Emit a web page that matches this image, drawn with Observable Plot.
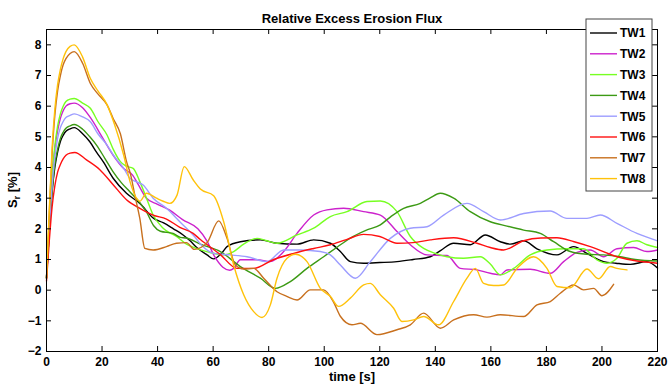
<!DOCTYPE html>
<html><head><meta charset="utf-8">
<script src="https://cdn.jsdelivr.net/npm/d3@7"></script>
<script src="https://cdn.jsdelivr.net/npm/@observablehq/plot@0.6"></script>
<style>body{margin:0;background:#fff;} svg{display:block;}</style>
</head><body><div id="chart"></div>
<script>
const titleText = "Relative Excess Erosion Flux";
const xLabelText = "time [s]";
const names = ["TW1","TW2","TW3","TW4","TW5","TW6","TW7","TW8"];
const colors = ["#000000","#cc22cc","#77ff22","#3c9a14","#9d9dff","#ff1010","#c8701e","#ffc20a"];
const xTicks = [0,20,40,60,80,100,120,140,160,180,200,220];
const yTicks = [-2,-1,0,1,2,3,4,5,6,7,8];

const tw1 = [[0,0.4],[1,1.9],[2,3.2],[3,4.0],[4,4.5],[5,4.85],[6,5.05],[7,5.18],[8.5,5.26],[10,5.3],[13,5.1],[15.6,4.84],[18,4.5],[20.4,4.19],[24,3.65],[28.8,3.16],[33.6,2.83],[38.6,2.34],[42,2.2],[45.7,2.0],[49.2,1.8],[51.8,1.6],[54.2,1.38],[57.8,1.15],[60.2,1.02],[63,1.2],[65,1.42],[69.8,1.58],[77,1.64],[83,1.53],[90.2,1.5],[96.2,1.64],[102.2,1.53],[105.8,1.26],[109.4,0.93],[114.2,0.88],[120,0.9],[126.2,0.93],[132,1.0],[138.2,1.09],[142,1.3],[146.6,1.53],[152.6,1.48],[158,1.8],[163.4,1.58],[167,1.5],[171.8,1.61],[176.6,1.35],[183.8,1.15],[189.8,1.42],[194.6,1.2],[200.6,0.93],[205,0.88],[210.2,0.84],[216.2,0.93],[220,0.72]];
const tw2 = [[0,0.4],[1,2.1],[2,3.6],[3,4.6],[4,5.2],[5,5.6],[6,5.85],[7,6.0],[8.5,6.08],[10,6.1],[13,5.95],[16,5.6],[20,5.0],[24,4.4],[28,3.95],[31,3.75],[33,3.45],[36,3.0],[40,2.8],[44.5,2.6],[49,2.3],[54.5,2.0],[57.8,1.6],[60.5,1.1],[63.5,0.75],[66,0.65],[67.4,0.71],[69.8,0.99],[75.8,0.99],[80.6,0.93],[85.4,1.26],[90.2,1.85],[96.2,2.45],[101,2.62],[107,2.67],[114.2,2.56],[120.2,2.45],[126.2,1.91],[131,1.48],[137,1.15],[144.2,1.13],[149,0.71],[155,0.66],[159.8,0.55],[163.4,0.5],[165.8,0.66],[174.2,0.68],[181.4,0.55],[186.2,0.93],[191,1.23],[195.8,1.31],[200.6,1.09],[205.4,1.35],[211.4,1.39],[216.2,1.26],[220,1.31]];
const tw3 = [[0,0.4],[1,2.2],[2,3.7],[3,4.7],[4,5.35],[5,5.75],[6,6.0],[7,6.15],[8.5,6.23],[10,6.25],[13,6.1],[15.8,5.93],[18.5,5.5],[21.8,5.06],[24,4.6],[26.6,4.19],[28.5,4.05],[31.2,3.97],[33.6,3.54],[36,3.0],[38.4,2.45],[42,2.02],[46.8,1.75],[50.4,1.5],[54,1.36],[58,1.25],[63.8,1.15],[67.4,1.26],[71,1.5],[75.8,1.69],[79,1.62],[83,1.53],[90.2,1.8],[96.2,2.02],[102.2,2.4],[108.2,2.56],[115.4,2.89],[120.2,2.91],[126.2,2.56],[131,1.75],[135.8,1.36],[140,1.2],[144.2,1.09],[150.2,1.04],[156.2,1.09],[159.8,0.85],[163.4,0.5],[168.2,0.71],[174.2,1.15],[180.2,1.31],[187.4,1.35],[193.4,1.35],[198.2,0.99],[201.8,0.88],[205.4,1.04],[209,1.53],[212.6,1.61],[216.2,1.48],[220,1.39]];
const tw4 = [[0,0.4],[1,1.9],[2,3.2],[3,4.1],[4,4.6],[5,4.95],[6,5.15],[7,5.28],[8.5,5.36],[10,5.4],[13,5.25],[15.6,5.0],[18,4.73],[21,4.3],[24,3.86],[27,3.5],[30,3.21],[33.6,2.85],[36,2.55],[38.6,2.1],[41,1.92],[45.6,1.85],[48.2,1.72],[50.4,1.7],[55.4,1.5],[62.6,1.26],[69.8,0.77],[77,0.39],[82.4,0.06],[87.8,0.28],[93.8,0.71],[99.8,1.09],[104.6,1.4],[109.4,1.7],[115,1.95],[120.2,2.13],[124,2.4],[128.6,2.67],[134.6,2.83],[138,3.0],[141.8,3.16],[146.6,3.0],[152.6,2.56],[159.8,2.23],[165.8,2.09],[171.8,1.96],[177.8,1.85],[182.6,1.58],[188.6,1.26],[194.6,1.17],[200.6,1.15],[206,1.1],[212,1.0],[220,0.95]];
const tw5 = [[0,0.4],[1,2.0],[2,3.4],[3,4.35],[4,4.95],[5,5.3],[6,5.5],[7,5.63],[8.5,5.7],[10,5.75],[13,5.65],[15.8,5.49],[18.5,5.1],[21.8,4.73],[24.5,4.35],[27.8,3.97],[30,3.65],[32,3.55],[34.8,3.43],[38.4,3.0],[43.2,2.67],[48,2.23],[52.8,1.8],[56,1.45],[60.2,1.2],[66.2,1.15],[72.2,1.09],[79.4,0.93],[85.4,1.31],[91.4,1.31],[98.6,1.26],[102.2,1.15],[105.8,0.82],[111.2,0.39],[116.6,0.93],[123.8,1.69],[131,2.02],[137,2.07],[143,2.45],[151.4,2.83],[157.4,2.56],[163.4,2.29],[171.8,2.5],[181.4,2.58],[187.4,2.34],[194.6,2.34],[199.4,2.45],[205.4,2.18],[212.6,1.85],[220,1.61]];
const tw6 = [[0,0.3],[1,1.6],[2,2.7],[3,3.4],[4,3.85],[5,4.1],[6,4.28],[7,4.4],[8.5,4.47],[10.2,4.49],[14.4,4.25],[19.2,3.93],[24,3.44],[28.8,2.95],[33.6,2.67],[38.4,2.45],[43.2,2.32],[48,2.05],[52.8,1.85],[55.4,1.65],[62.6,1.16],[68.6,0.71],[74.6,0.71],[81.8,1.0],[89,1.2],[96.2,1.36],[102.2,1.48],[108,1.65],[114.2,1.82],[120,1.75],[126.2,1.53],[132,1.55],[138.2,1.64],[146.6,1.71],[155,1.53],[159.8,1.39],[164.6,1.31],[171.8,1.61],[178,1.7],[183.8,1.71],[190,1.58],[195.8,1.42],[205.4,1.09],[212.6,0.95],[220,0.88]];
const tw7 = [[0,0.4],[1,2.5],[2,4.4],[3,5.7],[4,6.5],[5,7.0],[6,7.35],[7,7.55],[8.5,7.72],[10,7.78],[13,7.4],[15.8,6.74],[18.5,6.4],[21.8,6.04],[24,5.6],[26.6,5.1],[28.8,4.2],[30.2,3.8],[31.8,3.1],[33.6,2.34],[35.4,1.36],[38.4,1.31],[43.2,1.42],[46.8,1.53],[50.4,1.55],[53.2,1.33],[57.8,1.55],[62,2.26],[65,1.69],[68,0.82],[71,0.69],[74.6,0.71],[78.2,0.39],[83,-0.05],[86.5,-0.2],[90.2,-0.32],[95,0.01],[99.8,0.01],[103.4,-0.4],[105.8,-0.85],[110,-1.13],[113,-1.08],[119,-1.45],[126.2,-1.29],[131,-1.13],[135.8,-0.75],[141.8,-1.24],[146.6,-0.97],[153.8,-0.8],[158.6,-0.88],[163.4,-0.8],[171.8,-0.86],[176.6,-0.48],[181.4,-0.37],[185,-0.1],[189.8,0.17],[193.4,0.01],[197,0.06],[200,-0.18],[204.2,0.19]];
const tw8 = [[0,0.4],[1,2.6],[2,4.6],[3,5.9],[4,6.7],[5,7.2],[6,7.55],[7,7.78],[8.5,7.95],[10,8.0],[13,7.6],[15.8,6.9],[18.5,6.5],[21.8,6.05],[24.5,5.4],[27.8,4.4],[30.2,3.5],[32.4,3.0],[33.6,2.9],[36,3.16],[39.6,3.0],[42,2.9],[44.4,2.83],[47,3.1],[49.6,4.03],[52.8,3.6],[55.4,3.3],[60.2,3.08],[63.8,2.23],[67.4,0.82],[71,-0.15],[74.6,-0.7],[77.6,-0.89],[80.6,-0.48],[83,0.39],[86.6,1.04],[89.6,1.17],[93.8,0.93],[98.6,0.06],[102.2,-0.2],[105.2,-0.53],[109.4,-0.26],[114.2,0.17],[116.6,0.22],[120.2,-0.15],[125,-0.59],[128,-1.02],[132.2,-0.97],[135.8,-0.86],[141.2,-1.13],[146.6,-0.37],[151.4,0.39],[154.4,0.71],[157.4,0.22],[161,0.15],[164.6,0.17],[169.4,0.71],[175.4,1.09],[180.2,0.71],[183.8,0.12],[188.6,0.08],[194.6,0.69],[198.8,0.37],[203,0.77],[205.4,0.71],[209,0.66]];

const seriesPts = [tw1,tw2,tw3,tw4,tw5,tw6,tw7,tw8];
const rows = [];
seriesPts.forEach((pts, i) => pts.forEach(([t, v]) => rows.push({name: names[i], t, v})));

const W = 668, H = 387, mL = 46, mR = 11, mT = 29, mB = 36;
const innerW = W - mL - mR, innerH = H - mT - mB;
const font = "'Liberation Sans', Arial, Helvetica, sans-serif";

const chart = Plot.plot({
  width: W, height: H,
  marginLeft: mL, marginRight: mR, marginTop: mT, marginBottom: mB,
  style: {fontFamily: font, fontSize: "12px", fontWeight: "bold", color: "black", background: "white"},
  x: {domain: [0, 220]},
  y: {domain: [-2, 8.5]},
  color: {domain: names, range: colors},
  marks: [
    Plot.line(rows, {x: "t", y: "v", z: "name", stroke: "name", strokeWidth: 1.4, curve: "monotone-x"}),
    Plot.frame({stroke: "black", strokeWidth: 1}),
    Plot.tickX(xTicks, {x: d => d, insetTop: innerH - 5, stroke: "black"}),
    Plot.tickX(xTicks, {x: d => d, insetBottom: innerH - 5, stroke: "black"}),
    Plot.tickY(yTicks, {y: d => d, insetRight: innerW - 5, stroke: "black"}),
    Plot.tickY(yTicks, {y: d => d, insetLeft: innerW - 5, stroke: "black"}),
    Plot.axisX(xTicks, {tickSize: 0, tickPadding: 6, label: null, fontSize: 12}),
    Plot.axisY(yTicks, {tickSize: 0, tickPadding: 5, label: null, fontSize: 12}),
    Plot.text([titleText], {text: d => d, frameAnchor: "top", dy: -16, fontSize: 13, fontWeight: "bold"}),
    Plot.text([xLabelText], {text: d => d, frameAnchor: "bottom", dy: 29, fontSize: 13, fontWeight: "bold"})
  ]
});
document.getElementById("chart").appendChild(chart);

const svg = d3.select(chart);
// y label with subscript
const yl = svg.append("text")
  .attr("transform", `translate(17,${mT + innerH / 2}) rotate(-90)`)
  .attr("text-anchor", "middle")
  .attr("font-family", font).attr("font-weight", "bold").attr("font-size", 13).attr("fill", "black");
yl.append("tspan").text("S");
yl.append("tspan").attr("font-size", 9).attr("dy", 3).text("r");
yl.append("tspan").attr("dy", -3).text(" [%]");

// legend
const lg = svg.append("g").attr("font-family", font).attr("font-weight", "bold").attr("font-size", 12).attr("text-anchor", "start");
const lx = W - mR - 71, ly = mT - 10, lw = 66, lh = 172;
lg.append("rect").attr("x", lx).attr("y", ly).attr("width", lw).attr("height", lh)
  .attr("fill", "white").attr("stroke", "#444").attr("stroke-width", 1);
names.forEach((n, i) => {
  const yy = ly + 14 + i * 20.8;
  lg.append("line").attr("x1", lx + 4).attr("x2", lx + 31).attr("y1", yy).attr("y2", yy)
    .attr("stroke", colors[i]).attr("stroke-width", 1.4);
  lg.append("text").attr("x", lx + 34).attr("y", yy).attr("dy", "0.36em")
    .attr("text-anchor", "start").attr("fill", "black").text(n);
});
</script>
</body></html>
